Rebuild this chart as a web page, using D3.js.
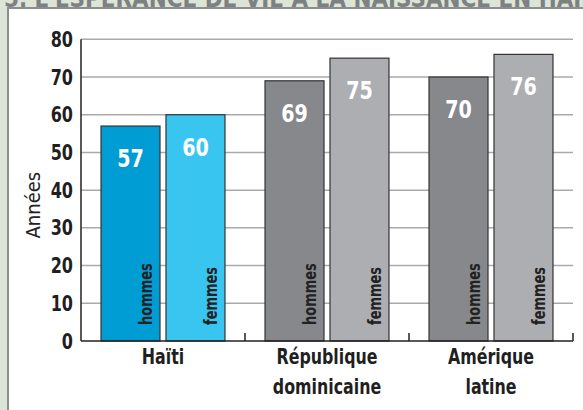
<!DOCTYPE html>
<html>
<head>
<meta charset="utf-8">
<script src="https://cdn.jsdelivr.net/npm/d3@7"></script>
<style>
  body { margin: 0; background: #dde4d8; }
  svg { display: block; }
  text { font-family: "Liberation Sans Narrow", "DejaVu Sans Condensed", "DejaVu Sans", sans-serif; font-stretch: condensed; }
</style>
</head>
<body>
<div id="chart"></div>
<script>
// data
var title = "5. L'ESPÉRANCE DE VIE À LA NAISSANCE EN HAÏTI";
var categories = [["Haïti"], ["République", "dominicaine"], ["Amérique", "latine"]];
var sexes = ["hommes", "femmes"];
var hommes = [57, 69, 70];
var femmes = [60, 75, 76];
var yTicks = [0, 10, 20, 30, 40, 50, 60, 70, 80];
var yLabel = "Années";

// colours: first group blue, others grey
var colors = [
  ["#009dd5", "#38c6f1"],
  ["#87888c", "#adaeb2"],
  ["#87888c", "#adaeb2"]
];

var W = 583, H = 410;
var mLeft = 81, mRight = 573, mTop = 39.3, mBottom = 341;
var sx = 0.85; // squeeze text horizontally, the original font is condensed

var svg = d3.select("#chart").append("svg")
    .attr("width", W)
    .attr("height", H);

// clipped title at the very top
svg.append("text")
    .attr("x", 4)
    .attr("y", 7)
    .attr("textLength", 600)
    .attr("lengthAdjust", "spacingAndGlyphs")
    .attr("font-size", 24)
    .attr("font-weight", "bold")
    .attr("fill", "#7e8181")
    .text(title);

// white panel
svg.append("rect")
    .attr("x", 8).attr("y", 8)
    .attr("width", W + 20).attr("height", H + 20)
    .attr("fill", "#fff")
    .attr("stroke", "#8b8e8c")
    .attr("stroke-width", 2);

var x0 = d3.scaleBand()
    .domain(d3.range(categories.length))
    .range([mLeft, mRight])
    .padding(0);

var x1 = d3.scaleBand()
    .domain(sexes)
    .range([0, x0.bandwidth()])
    .paddingInner(0.092)
    .paddingOuter(0.308);

var y = d3.scaleLinear()
    .domain([0, 80])
    .range([mBottom, mTop]);

// gridlines
svg.append("g")
    .selectAll("line")
    .data(yTicks.filter(function (d) { return d > 0; }))
    .enter()
    .append("line")
    .attr("x1", mLeft).attr("x2", mRight)
    .attr("y1", function (d) { return y(d); })
    .attr("y2", function (d) { return y(d); })
    .attr("stroke", "#aaaaaa")
    .attr("stroke-width", 1.5);

// tick labels
svg.append("g")
    .selectAll("text")
    .data(yTicks)
    .enter()
    .append("text")
    .attr("transform", function (d) { return "translate(73," + (y(d) + 7.5) + ") scale(" + sx + ",1)"; })
    .attr("text-anchor", "end")
    .attr("font-size", 21)
    .attr("font-weight", "bold")
    .attr("fill", "#1f1f1f")
    .text(function (d) { return d; });

// y label
svg.append("text")
    .attr("transform", "translate(40," + ((mTop + mBottom) / 2 + 15) + ") rotate(-90)")
    .attr("text-anchor", "middle")
    .attr("font-size", 20)
    .attr("fill", "#222")
    .text(yLabel);

// bars
var rows = [];
categories.forEach(function (c, i) {
  rows.push({g: i, sex: "hommes", s: 0, v: hommes[i]});
  rows.push({g: i, sex: "femmes", s: 1, v: femmes[i]});
});

var bars = svg.append("g")
    .selectAll("g")
    .data(rows)
    .enter()
    .append("g")
    .attr("transform", function (d) { return "translate(" + (x0(d.g) + x1(d.sex)) + ",0)"; });

bars.append("rect")
    .attr("x", 0)
    .attr("y", function (d) { return y(d.v); })
    .attr("width", x1.bandwidth())
    .attr("height", function (d) { return mBottom - y(d.v); })
    .attr("fill", function (d) { return colors[d.g][d.s]; })
    .attr("stroke", "#333")
    .attr("stroke-width", 1.2);

// value labels
bars.append("text")
    .attr("transform", function (d) { return "translate(" + (x1.bandwidth() / 2) + "," + (y(d.v) + 41) + ") scale(" + sx + ",1)"; })
    .attr("text-anchor", "middle")
    .attr("font-size", 25)
    .attr("font-weight", "bold")
    .attr("fill", "#fff")
    .text(function (d) { return d.v; });

// sex labels inside bars
bars.append("text")
    .attr("transform", "translate(" + (x1.bandwidth() - 8) + "," + (mBottom - 16) + ") rotate(-90) scale(" + sx + ",1)")
    .attr("font-size", 17)
    .attr("font-weight", "bold")
    .attr("fill", "#222")
    .text(function (d) { return d.sex; });

// axes lines
svg.append("line")
    .attr("x1", mLeft).attr("x2", mLeft)
    .attr("y1", mTop).attr("y2", mBottom)
    .attr("stroke", "#222").attr("stroke-width", 1.5);
svg.append("line")
    .attr("x1", mLeft).attr("x2", mRight)
    .attr("y1", mBottom).attr("y2", mBottom)
    .attr("stroke", "#222").attr("stroke-width", 1.5);

// group separator ticks
svg.append("g")
    .selectAll("line")
    .data(d3.range(1, categories.length + 1))
    .enter()
    .append("line")
    .attr("x1", function (d) { return mLeft + d * x0.step(); })
    .attr("x2", function (d) { return mLeft + d * x0.step(); })
    .attr("y1", mBottom - 8).attr("y2", mBottom)
    .attr("stroke", "#222").attr("stroke-width", 1.5);

// category labels
svg.append("g")
    .selectAll("g")
    .data(categories)
    .enter()
    .append("g")
    .attr("transform", function (d, i) { return "translate(" + (x0(i) + x0.bandwidth() / 2) + ",0) scale(0.8,1)"; })
    .selectAll("text")
    .data(function (d) { return d; })
    .enter()
    .append("text")
    .attr("x", 0)
    .attr("y", function (d, j) { return 364 + j * 30; })
    .attr("text-anchor", "middle")
    .attr("font-size", 22)
    .attr("font-weight", "bold")
    .attr("fill", "#1f1f1f")
    .text(function (d) { return d; });
</script>
</body>
</html>
